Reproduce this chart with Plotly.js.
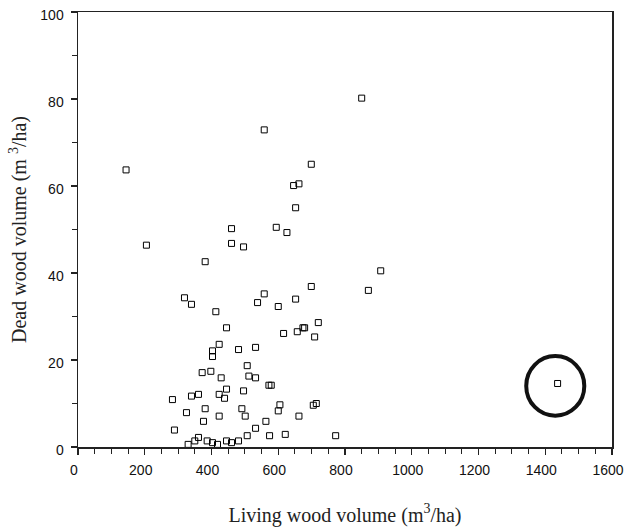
<!DOCTYPE html>
<html>
<head>
<meta charset="utf-8">
<script src="https://cdn.plot.ly/plotly-3.0.1.min.js"></script>
<style>html,body{margin:0;padding:0;background:#fff;}#chart{width:626px;height:530px;}</style>
</head>
<body>
<div id="chart"></div>
<script>
// Living wood volume (m3/ha)
var livingVolume = [144, 205, 319, 340, 381, 413, 460, 460, 496, 445,
  423, 403, 403, 481, 532, 372, 398, 429, 507, 512,
  532, 445, 496, 572, 579, 283, 340, 361, 423, 439,
  325, 381, 491, 423, 501, 376, 563, 605, 600, 662,
  705, 714, 289, 532, 507, 574, 621, 772, 330, 350,
  361, 387, 403, 418, 445, 460, 481, 558, 699, 646,
  662, 652, 594, 626, 850, 907, 870, 699, 558, 538,
  652, 600, 720, 674, 679, 657, 616, 709, 1437];
// Dead wood volume (m3/ha)
var deadVolume = [63.7, 46.4, 34.3, 32.8, 42.6, 31.1, 50.2, 46.8, 46.0, 27.4,
  23.6, 22.1, 20.8, 22.4, 22.9, 17.1, 17.4, 15.9, 18.7, 16.3,
  15.9, 13.3, 12.9, 14.2, 14.2, 10.9, 11.7, 12.1, 12.1, 11.2,
  7.9, 8.8, 8.8, 7.1, 7.1, 5.9, 5.9, 9.7, 8.3, 7.1,
  9.6, 10.0, 3.9, 4.3, 2.6, 2.6, 2.9, 2.6, 0.6, 1.4,
  2.2, 1.4, 1.0, 0.6, 1.4, 1.0, 1.4, 72.9, 65.0, 60.1,
  60.5, 55.0, 50.5, 49.3, 80.2, 40.5, 36.0, 36.9, 35.2, 33.2,
  34.0, 32.3, 28.6, 27.4, 27.4, 26.5, 26.1, 25.3, 14.6];
// Highlighted outlier circle bounds (data units)
var circleX = [1343, 1517];
var circleY = [7.2, 20.9];

var trace = {
  x: livingVolume,
  y: deadVolume,
  type: 'scatter',
  mode: 'markers',
  marker: {symbol: 'square-open', size: 6, color: '#000', line: {width: 1, color: '#000'}},
  hoverinfo: 'x+y'
};

var tickFont = {family: 'Liberation Sans, Arial, sans-serif', size: 14, color: '#111'};
var titleFont = {family: 'Liberation Serif, Times New Roman, serif', size: 20, color: '#222'};

var layout = {
  width: 626, height: 530,
  margin: {l: 78, r: 14, t: 12, b: 83},
  paper_bgcolor: '#fff', plot_bgcolor: '#fff',
  showlegend: false,
  xaxis: {
    range: [0, 1600], dtick: 200, tick0: 0,
    showgrid: false, zeroline: false,
    showline: true, linecolor: '#222', linewidth: 1.5, mirror: true,
    ticks: 'outside', ticklen: 6, tickwidth: 1.2, tickcolor: '#222',
    minor: {dtick: 50, ticks: 'outside', ticklen: 5, tickwidth: 1, tickcolor: '#222', showgrid: false},
    tickfont: tickFont,
    ticklabeloverflow: 'allow',
    ticklabelshift: -4,
    ticklabelstandoff: 4,
    title: {text: 'Living wood volume (m<sup>3</sup>/ha)', font: titleFont, standoff: 30}
  },
  yaxis: {
    range: [0, 100], dtick: 20, tick0: 0,
    showgrid: false, zeroline: false,
    showline: true, linecolor: '#222', linewidth: 1.5, mirror: true,
    ticks: 'outside', ticklen: 6, tickwidth: 1.2, tickcolor: '#222',
    minor: {dtick: 10, ticks: 'outside', ticklen: 5, tickwidth: 1, tickcolor: '#222', showgrid: false},
    tickfont: tickFont,
    ticklabeloverflow: 'allow',
    ticklabelshift: 3,
    ticklabelstandoff: 4,
    title: {text: 'Dead wood volume (m <sup>3</sup>/ha)', font: titleFont, standoff: 8}
  },
  shapes: [{
    type: 'circle', xref: 'x', yref: 'y',
    x0: circleX[0], x1: circleX[1], y0: circleY[0], y1: circleY[1],
    line: {color: '#111', width: 4}
  }]
};

Plotly.newPlot('chart', [trace], layout, {displayModeBar: false, staticPlot: true});
</script>
</body>
</html>
